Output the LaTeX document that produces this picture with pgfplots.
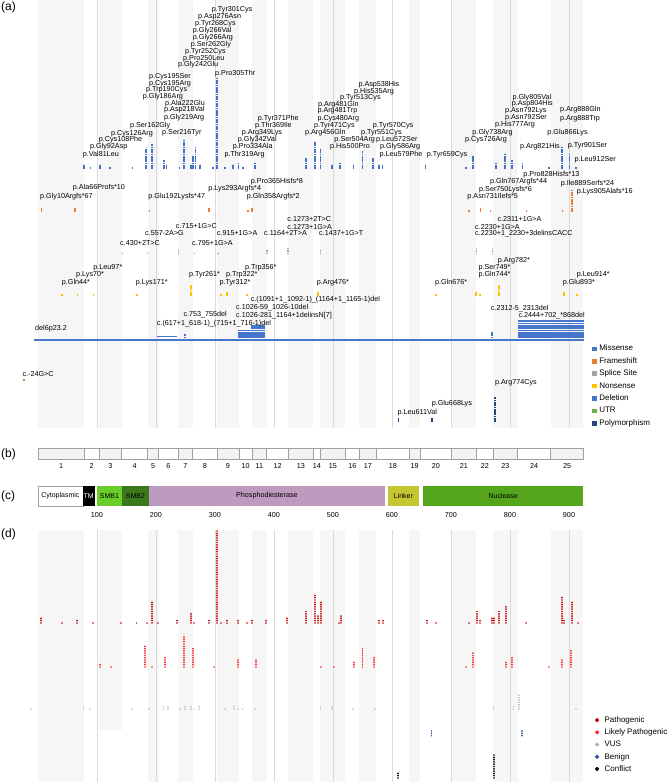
\documentclass[border=0pt]{standalone}
\usepackage{pgfplots}
\pgfplotsset{compat=1.18}
\usepackage{fontspec}
\setmainfont{Liberation Sans}

\definecolor{missense}{HTML}{4472C4}
\definecolor{frameshift}{HTML}{ED7D31}
\definecolor{splice}{HTML}{A5A5A5}
\definecolor{nonsense}{HTML}{FFC000}
\definecolor{deletion}{HTML}{4676CC}
\definecolor{utr}{HTML}{70AD47}
\definecolor{poly}{HTML}{264478}
\definecolor{patho}{HTML}{C00000}
\definecolor{lpatho}{HTML}{FF1F1F}
\definecolor{vus}{HTML}{B4B4B4}
\definecolor{benign}{HTML}{2F5597}
\definecolor{band}{HTML}{F6F6F6}
\definecolor{gridc}{HTML}{DADADA}
\definecolor{exfill}{HTML}{F2F2F2}
\definecolor{exline}{HTML}{A0A0A0}
\definecolor{smbone}{HTML}{6ACD2A}
\definecolor{smbtwo}{HTML}{3A7A1C}
\definecolor{pde}{HTML}{BF9ABF}
\definecolor{linker}{HTML}{C6C632}
\definecolor{nuclease}{HTML}{55A51C}

\newcommand{\sz}[1]{\fontsize{#1}{#1}\selectfont}
\tikzset{lab/.style={anchor=west, inner sep=0pt, font=\sz{7.2}}}
\newcommand{\lab}[3]{\node[lab] at (axis cs:#1,#2) {#3};}
\newcommand{\bandA}[2]{\fill[band] (axis cs:#1,0) rectangle (axis cs:#2,428);}
\newcommand{\bandD}[2]{\fill[band] (axis cs:#1,530) rectangle (axis cs:#2,782);}
\newcommand{\vl}[3]{\draw[gridc, line width=0.8pt] (axis cs:#1,#2) -- (axis cs:#1,#3);}
\newcommand{\exon}[5]{\filldraw[fill=#3, draw=exline, line width=0.5pt] (axis cs:#1,448) rectangle (axis cs:#2,459);
  \node[font=\sz{7.2}, inner sep=0pt] at (axis cs:#5,466) {#4};}
\newcommand{\dom}[3]{\fill[#3] (axis cs:#1,486) rectangle (axis cs:#2,506);}

\pgfplotsset{
  base/.style={x=0.59pt, y=1pt, y dir=reverse, xmin=-64.4, xmax=1066.1, ymin=0, ymax=782,
    axis lines=none, xtick=\empty, ytick=\empty, clip=false, at={(0,0)}, anchor=south west},
  sq/.style={quiver={u=0, v=-2.3*\thisrow{n}}, line width=1.7pt, dash pattern=on 1.7pt off 0.6pt, forget plot},
  sqs/.style={quiver={u=0, v=-2.3*\thisrow{n}}, line width=1.4pt, dash pattern=on 1.4pt off 0.9pt, forget plot},
  rd/.style={quiver={u=0, v=-2.3*\thisrow{n}+2.2}, line width=1.9pt, line cap=round, dash pattern=on 0.01pt off 2.29pt, forget plot},
  rds/.style={quiver={u=0, v=-2.3*\thisrow{n}+2.2}, line width=1.5pt, line cap=round, dash pattern=on 0.01pt off 2.29pt, forget plot},
  hb/.style={quiver={u=\thisrow{b}-\thisrow{a}, v=0}, line width=1.7pt, forget plot},
}

\begin{document}
\begin{tikzpicture}
% ---------- panels (a), (b), (c) ----------
\begin{axis}[base,
  legend style={at={(axis cs:938.5,344.6)}, anchor=north west, draw=none, fill=none,
    inner sep=0pt, column sep=3.4pt, row sep=4.9pt, font=\sz{8},
    nodes={inner sep=0pt, text height=6pt, text depth=1.5pt}},
  legend cell align=left,
  legend image code/.code={\fill[#1] (0pt,-1.8pt) rectangle (3.6pt,1.8pt);},
]
% exon bands
\bandA{0}{78.4}\bandA{103.6}{141.8}\bandA{185.8}{204.5}\bandA{237.7}{262.2}
\bandA{303.2}{340.7}\bandA{363.1}{387.6}\bandA{424.3}{466.8}\bandA{478.4}{520.9}
\bandA{544.7}{573.5}\bandA{629}{647.7}\bandA{701}{742.9}\bandA{771.7}{812.8}\bandA{869}{924.5}
\vl{100}{0}{428}\vl{200}{0}{428}\vl{300}{0}{428}\vl{400}{0}{428}\vl{500}{0}{428}
\vl{600}{0}{428}\vl{700}{0}{428}\vl{800}{0}{428}\vl{900}{0}{428}

% missense
\addplot[missense, sq] table[x=aa, y expr=169] {
aa n
78 2
89 1
105 2
122 1
160 1
183 9
193 11
214 4
218 2
240 1
248 13
259 2
263 6
267 10
275 2
297 1
303 40
317 1
331 2
340 3
347 1
368 3
454 5
469 12
479 9
498 2
512 3
535 2
550 8
568 5
578 2
584 2
657 2
725 1
737 6
776 3
791 7
803 4
821 3
866 1
888 10
901 7
912 1
};
% frameshift
\addplot[frameshift, sq] table[x=aa, y expr=212] {
aa n
6 2
63 2
189 1
290 2
356 1
363 2
731 1
750 2
767 1
828 1
889 1
905 10
};
% splice site
\addplot[splice, sqs] table[x=aa, y expr=254] {
aa n
143 1
186 1
238 2
265 1
305 1
388 2
424 3
479 2
743 3
770 3
};
% nonsense
\addplot[nonsense, sq] table[x=aa, y expr=296] {
aa n
41 1
67 1
94 1
168 1
259 5
310 1
320 2
354 1
474 2
675 1
742 2
749 1
781 5
892 2
914 1
};
% deletions
\addplot[deletion, quiver={u=\thisrow{b}-\thisrow{a}, v=0}, line width=2pt, forget plot] table[x=a, y=y] {
a b y
-6.8 925 340
};
\addplot[deletion, hb] table[x=a, y=y] {
a b y
201 235 336.4
338.5 384.7 337.3
338.5 384.7 335
338.5 384.7 332.7
338.5 384.7 330.4
360.5 384.7 328.1
360.5 384.7 325.8
814 925 337.3
814 925 335
814 925 332.7
814 925 330.4
814 925 328.1
814 925 325.8
814 925 323.5
814 925 321.2
};
\addplot[deletion, sq] table[x=aa, y expr=338.2] {
aa n
249 2
770 3
};
% UTR
\addplot[utr, sq] table[x=aa, y expr=380.5] {
aa n
-24 1
};
% polymorphism
\addplot[poly, sq] table[x=aa, y expr=422] {
aa n
611 2
668 2
774 11
};

% missense labels
\lab{75.8}{154.3}{p.Val81Leu}
\lab{88.1}{147}{p.Gly92Asp}
\lab{102.9}{140}{p.Cys108Phe}
\lab{123.7}{133.3}{p.Cys126Arg}
\lab{155.9}{126}{p.Ser162Gly}
\lab{177.5}{96.7}{p.Gly186Arg}
\lab{183}{90}{p.Trp190Cys}
\lab{188.1}{83.3}{p.Cys195Arg}
\lab{188.1}{76.7}{p.Cys195Ser}
\lab{210.2}{132.7}{p.Ser216Tyr}
\lab{213.6}{117.7}{p.Gly219Arg}
\lab{213.6}{110}{p.Asp218Val}
\lab{215.3}{103.3}{p.Ala222Glu}
\lab{237.3}{65}{p.Gly242Glu}
\lab{245.8}{58.3}{p.Pro250Leu}
\lab{249.2}{51.7}{p.Tyr252Cys}
\lab{258.8}{44.3}{p.Ser262Gly}
\lab{262.2}{37.7}{p.Gly266Arg}
\lab{262.2}{31}{p.Gly266Val}
\lab{266.1}{24}{p.Tyr268Cys}
\lab{271.2}{16.7}{p.Asp276Asn}
\lab{294.4}{10}{p.Tyr301Cys}
\lab{300}{73.3}{p.Pro305Thr}
\lab{315.8}{154.3}{p.Thr319Arg}
\lab{330}{146.7}{p.Pro334Ala}
\lab{338.5}{140}{p.Gly342Val}
\lab{345.3}{132.7}{p.Arg349Lys}
\lab{367.8}{125.3}{p.Thr369Ile}
\lab{372.4}{118.3}{p.Tyr371Phe}
\lab{452.5}{132.7}{p.Arg456Gln}
\lab{467.8}{125.3}{p.Tyr471Cys}
\lab{473.4}{118.3}{p.Cys480Arg}
\lab{473.4}{111}{p.Arg481Trp}
\lab{474.6}{104.3}{p.Arg481Gln}
\lab{511.9}{97.7}{p.Tyr513Cys}
\lab{535.6}{91.7}{p.His535Arg}
\lab{542.9}{85}{p.Asp538His}
\lab{494.9}{146.7}{p.His500Pro}
\lab{502.2}{140}{p.Ser504Arg}
\lab{547.5}{132.7}{p.Tyr551Cys}
\lab{567.3}{125.7}{p.Tyr570Cys}
\lab{572.9}{140}{p.Leu572Ser}
\lab{579.7}{146.7}{p.Gly586Arg}
\lab{578.5}{154.3}{p.Leu579Phe}
\lab{658.8}{154.3}{p.Tyr659Cys}
\lab{723.7}{139.3}{p.Cys726Arg}
\lab{736.1}{132.3}{p.Gly738Arg}
\lab{774.6}{125}{p.His777Arg}
\lab{791.5}{117.7}{p.Asn792Ser}
\lab{791.5}{111}{p.Asn792Lys}
\lab{802.9}{104}{p.Asp804His}
\lab{803.9}{97.3}{p.Gly805Val}
\lab{817}{146.7}{p.Arg821His}
\lab{863.2}{132.3}{p.Glu866Lys}
\lab{884.7}{118.3}{p.Arg888Trp}
\lab{884.7}{109.3}{p.Arg888Gln}
\lab{897.8}{146}{p.Tyr901Ser}
\lab{909}{159.3}{p.Leu912Ser}
% frameshift labels
\lab{3.4}{196.7}{p.Gly10Argfs*67}
\lab{58.8}{187.3}{p.Ala66Profs*10}
\lab{186.9}{196.7}{p.Glu192Lysfs*47}
\lab{288.6}{189}{p.Lys293Argfs*4}
\lab{360.5}{181.7}{p.Pro365Hisfs*8}
\lab{353.7}{196.7}{p.Gln358Argfs*2}
\lab{822.5}{174.3}{p.Pro828Hisfs*13}
\lab{766.1}{181.7}{p.Gln767Argfs*44}
\lab{747.5}{189.3}{p.Ser750Lysfs*6}
\lab{727.6}{196.7}{p.Asn731Ilefs*5}
\lab{885.9}{184}{p.Ile889Serfs*24}
\lab{913}{191.7}{p.Lys905Alafs*16}
% splice labels
\lab{139}{243.3}{c.430+2T>C}
\lab{181.4}{233.3}{c.557-2A>G}
\lab{233.4}{225.7}{c.715+1G>C}
\lab{261}{243.3}{c.795+1G>A}
\lab{302.9}{233.3}{c.915+1G>A}
\lab{383}{233.3}{c.1164+2T>A}
\lab{422.5}{219.3}{c.1273+2T>C}
\lab{422.5}{226.7}{c.1273+1G>A}
\lab{476.3}{233.3}{c.1437+1G>T}
\lab{778.5}{219}{c.2311+1G>A}
\lab{740.7}{226.7}{c.2230+1G>A}
\lab{740.7}{233.3}{c.2230+1\_2230+3delinsCACC}
% nonsense labels
\lab{40.2}{282.7}{p.Gln44*}
\lab{64.4}{275}{p.Lys70*}
\lab{93.7}{267.7}{p.Leu97*}
\lab{165.6}{282.7}{p.Lys171*}
\lab{255.9}{275}{p.Tyr261*}
\lab{307.3}{282.3}{p.Tyr312*}
\lab{318.6}{275}{p.Trp322*}
\lab{350.8}{267.3}{p.Trp356*}
\lab{472.4}{282.3}{p.Arg476*}
\lab{672.9}{282.7}{p.Gln676*}
\lab{746.3}{275}{p.Gln744*}
\lab{746.3}{267.7}{p.Ser749*}
\lab{779.2}{260.7}{p.Arg782*}
\lab{889.3}{282.3}{p.Glu893*}
\lab{913}{275}{p.Leu914*}
% deletion labels
\lab{-5.1}{329}{del6p23.2}
\lab{201.2}{324}{c.(617+1\_618-1)\_(715+1\_716-1)del}
\lab{246.3}{315}{c.753\_755del}
\lab{335.6}{315.7}{c.1026-281\_1164+1delinsN[7]}
\lab{335.6}{308}{c.1026-59\_1026-10del}
\lab{360.5}{300}{c.(1091+1\_1092-1)\_(1164+1\_1165-1)del}
\lab{767.3}{308.3}{c.2312-5\_2313del}
\lab{814.1}{315.7}{c.2444+702\_*868del}
% UTR and polymorphism labels
\lab{-26.6}{374}{c.-24G>C}
\lab{609.2}{412.3}{p.Leu611Val}
\lab{667.1}{403.3}{p.Glu668Lys}
\lab{774.4}{382.7}{p.Arg774Cys}

\addlegendimage{missense}\addlegendentry{Missense}
\addlegendimage{frameshift}\addlegendentry{Frameshift}
\addlegendimage{splice}\addlegendentry{Splice Site}
\addlegendimage{nonsense}\addlegendentry{Nonsense}
\addlegendimage{deletion}\addlegendentry{Deletion}
\addlegendimage{utr}\addlegendentry{UTR}
\addlegendimage{poly}\addlegendentry{Polymorphism}

% panel (b): exons
\exon{0}{78.4}{exfill}{1}{39.2}
\exon{78.4}{103.6}{white}{2}{91}
\exon{103.6}{141.8}{exfill}{3}{122.7}
\exon{141.8}{185.8}{white}{4}{163.8}
\exon{185.8}{204.5}{exfill}{5}{195.2}
\exon{204.5}{237.7}{white}{6}{221.1}
\exon{237.7}{262.2}{exfill}{7}{250}
\exon{262.2}{303.2}{white}{8}{282.7}
\exon{303.2}{340.7}{exfill}{9}{322}
\exon{340.7}{363.1}{white}{10}{351.9}
\exon{363.1}{387.6}{exfill}{11}{375.4}
\exon{387.6}{424.3}{white}{12}{406}
\exon{424.3}{466.8}{exfill}{13}{445.6}
\exon{466.8}{478.4}{white}{14}{472.6}
\exon{478.4}{520.9}{exfill}{15}{499.7}
\exon{520.9}{544.7}{white}{16}{532.8}
\exon{544.7}{573.5}{exfill}{17}{559.1}
\exon{573.5}{629}{white}{18}{601.3}
\exon{629}{647.7}{exfill}{19}{638.4}
\exon{647.7}{701}{white}{20}{674.4}
\exon{701}{742.9}{exfill}{21}{722}
\exon{742.9}{771.7}{white}{22}{757.3}
\exon{771.7}{812.8}{exfill}{23}{792.3}
\exon{812.8}{869}{white}{24}{840.9}
\exon{869}{924.5}{exfill}{25}{896.8}

% panel (c): domains
\filldraw[fill=white, draw=exline, line width=0.5pt] (axis cs:0,486) rectangle (axis cs:76,506);
\dom{76}{96}{black}
\dom{100}{142.5}{smbone}
\dom{142.5}{188}{smbtwo}
\dom{188}{588}{pde}
\dom{593}{645.6}{linker}
\dom{652.8}{924}{nuclease}
\node[font=\sz{7}, inner sep=0pt] at (axis cs:38,496) {Cytoplasmic};
\node[font=\sz{7}, inner sep=0pt, white] at (axis cs:86,496) {TM};
\node[font=\sz{7}, inner sep=0pt] at (axis cs:121.2,496) {SMB1};
\node[font=\sz{7}, inner sep=0pt] at (axis cs:165.2,496) {SMB2};
\node[font=\sz{7.2}, inner sep=0pt] at (axis cs:388,496) {Phosphodiesterase};
\node[font=\sz{7}, inner sep=0pt] at (axis cs:619.3,496) {Linker};
\node[font=\sz{7}, inner sep=0pt] at (axis cs:788.4,496) {Nuclease};
\node[font=\sz{7.2}, inner sep=0pt] at (axis cs:100,515) {100};
\node[font=\sz{7.2}, inner sep=0pt] at (axis cs:200,515) {200};
\node[font=\sz{7.2}, inner sep=0pt] at (axis cs:300,515) {300};
\node[font=\sz{7.2}, inner sep=0pt] at (axis cs:400,515) {400};
\node[font=\sz{7.2}, inner sep=0pt] at (axis cs:500,515) {500};
\node[font=\sz{7.2}, inner sep=0pt] at (axis cs:600,515) {600};
\node[font=\sz{7.2}, inner sep=0pt] at (axis cs:700,515) {700};
\node[font=\sz{7.2}, inner sep=0pt] at (axis cs:800,515) {800};
\node[font=\sz{7.2}, inner sep=0pt] at (axis cs:900,515) {900};

% panel letters
\node[anchor=west, inner sep=0pt, font=\sz{12}] at (axis cs:-62.7,7.7) {(a)};
\node[anchor=west, inner sep=0pt, font=\sz{12}] at (axis cs:-62.7,454) {(b)};
\node[anchor=west, inner sep=0pt, font=\sz{12}] at (axis cs:-62.7,496.7) {(c)};
\node[anchor=west, inner sep=0pt, font=\sz{12}] at (axis cs:-62.7,534) {(d)};
\end{axis}

% ---------- panel (d) ----------
\begin{axis}[base,
  legend style={at={(axis cs:943.7,716.2)}, anchor=north west, draw=none, fill=none,
    inner sep=0pt, column sep=5.4pt, row sep=4.7pt, font=\sz{8},
    nodes={inner sep=0pt, text height=6pt, text depth=1.5pt}},
  legend cell align=left,
  legend image code/.code={\fill[#1] (1.9pt,0pt) circle[radius=1.9pt];},
]
\bandD{0}{78.4}\fill[band] (axis cs:103.6,530) rectangle (axis cs:141.8,730);
\bandD{185.8}{204.5}\bandD{237.7}{262.2}
\bandD{303.2}{340.7}\bandD{363.1}{387.6}\bandD{424.3}{466.8}\bandD{478.4}{520.9}
\bandD{544.7}{573.5}\bandD{629}{647.7}\bandD{701}{742.9}\bandD{771.7}{812.8}\bandD{869}{924.5}
\vl{100}{530}{782}\vl{200}{530}{782}\vl{300}{530}{782}\vl{400}{530}{782}\vl{500}{530}{782}
\vl{600}{530}{782}\vl{700}{530}{782}\vl{800}{530}{782}\vl{900}{530}{782}

% pathogenic
\addplot[patho, rd] table[x=aa, y expr=623] {
aa n
5 3
40 1
66 2
93 1
141 1
167 1
184 1
193 10
204 1
236 2
259 5
265 1
290 2
304 41
310 1
320 2
339 2
355 1
362 2
386 2
422 3
454 6
469 13
474 4
479 10
510 1
513 4
578 2
584 2
659 2
675 1
730 1
744 6
749 2
769 3
773 3
782 6
793 8
827 1
888 12
892 2
905 10
915 1
};
% likely pathogenic
\addplot[lpatho, rd] table[x=aa, y expr=667] {
aa n
105 2
123 1
182 10
193 1
215 5
248 14
263 9
299 1
339 4
369 4
480 1
502 1
536 3
550 9
569 5
725 1
738 7
793 3
804 5
866 1
888 4
903 8
};
% VUS
\addplot[vus, rds] table[x=aa, y expr=709] {
aa n
-12 1
77 2
88 1
159 1
188 1
213 2
220 2
241 1
249 2
259 2
265 1
273 2
317 1
332 2
339 1
347 1
368 1
479 2
498 2
534 1
571 1
772 2
806 2
815 7
912 1
};
% benign
\addplot[benign, rd] table[x=aa, y expr=735.7] {
aa n
667 3
821 3
};
% conflict
\addplot[black, rd] table[x=aa, y expr=778] {
aa n
610 3
773 11
};

\addlegendimage{patho}\addlegendentry{Pathogenic}
\addlegendimage{lpatho}\addlegendentry{Likely Pathogenic}
\addlegendimage{vus}\addlegendentry{VUS}
\addlegendimage{benign}\addlegendentry{Benign}
\addlegendimage{black}\addlegendentry{Conflict}
\end{axis}
\pgfresetboundingbox
\useasboundingbox (0,0) rectangle (667pt,782pt);
\end{tikzpicture}
\end{document}
